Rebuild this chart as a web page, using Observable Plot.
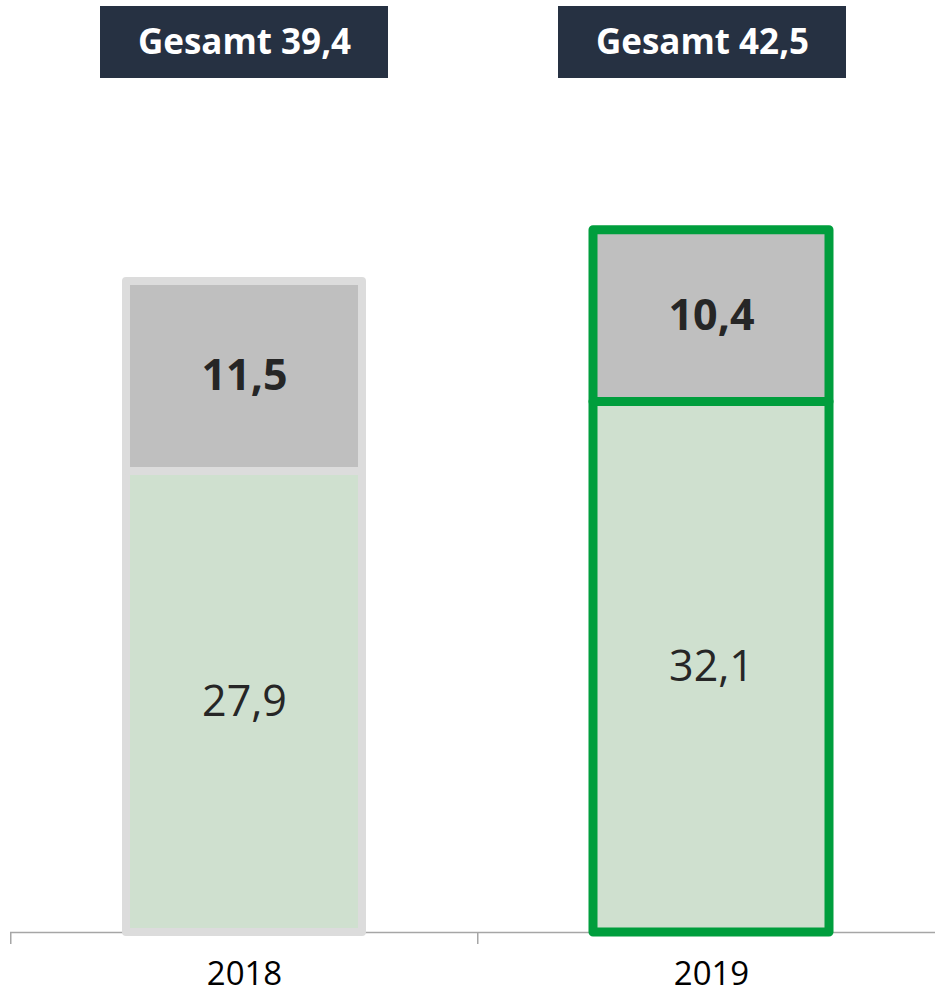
<!DOCTYPE html>
<html>
<head>
<meta charset="utf-8">
<script src="https://cdn.jsdelivr.net/npm/d3@7"></script>
<script src="https://cdn.jsdelivr.net/npm/@observablehq/plot@0.6"></script>
<style>
  html, body { margin: 0; padding: 0; background: #ffffff; }
</style>
</head>
<body>
<div id="chart"></div>
<script>
// ---- data ----
const years = ["2018", "2019"];
const baseValues = [27.9, 32.1];   // unteres Segment (grün)
const topValues = [11.5, 10.4];    // oberes Segment (grau)
const segments = ["base", "top"];

// ---- derived tables ----
const data = years.flatMap((year, i) => [
  {year, segment: segments[0], value: baseValues[i]},
  {year, segment: segments[1], value: topValues[i]}
]);
const totals = years.map((year, i) => ({year, total: baseValues[i] + topValues[i]}));
const fmt = v => v.toFixed(1).replace(".", ",");

// ---- layout constants ----
const W = 935, H = 995;
const BASE = 932;              // baseline pixel
const X0 = 10, X1 = 945;       // x band range
const STEP = (X1 - X0) / years.length;
const GREEN_FILL = "#cfe0cf", GRAY_FILL = "#bfbfbf";
const FONT = "Open Sans, sans-serif";

const boxMarks = (rows, dx) => [
  Plot.cell(rows, {
    x: "year", fill: "#263142", dx,
    insetTop: 6, insetBottom: BASE - 78, insetLeft: -26, insetRight: -26
  }),
  Plot.text(rows, {
    x: "year", frameAnchor: "top", dy: 42, dx, lineAnchor: "middle",
    text: d => "Gesamt " + fmt(d.total),
    fill: "#ffffff", fontWeight: "bold", fontSize: 35
  })
];

const chart = Plot.plot({
  width: W,
  height: H,
  marginTop: 0,
  marginLeft: X0,
  marginRight: 0,
  marginBottom: H - BASE,
  style: {fontFamily: FONT, background: "#ffffff", color: "#000"},
  x: {domain: years, range: [X0, X1], paddingInner: 0.495, paddingOuter: 0.2475, label: null},
  y: {domain: [0, 56.4], axis: null},
  color: {domain: segments, range: [GREEN_FILL, GRAY_FILL]},
  marks: [
    // axis baseline
    Plot.ruleY([0], {stroke: "#a6a6a6", strokeWidth: 1.5}),
    // ticks at category boundaries
    Plot.axisX({tickSize: 12, tickFormat: () => "", dx: -STEP / 2, stroke: "#a6a6a6", strokeWidth: 1.5}),
    // labels
    Plot.axisX({tickSize: 0, tickPadding: 29, fontSize: 33, fill: "#000"}),
    // bars 2018
    Plot.barY(data.filter(d => d.year === years[0]), {
      x: "year", y: "value", fill: "segment",
      stroke: "#dcdcdc", strokeWidth: 8, strokeLinejoin: "round"
    }),
    // bars 2019 (highlighted)
    Plot.barY(data.filter(d => d.year === years[1]), {
      x: "year", y: "value", fill: "segment",
      stroke: "#009e3d", strokeWidth: 9, strokeLinejoin: "round"
    }),
    // segment labels
    Plot.text(data, Plot.stackY({
      x: "year", y: "value",
      text: d => d.segment === segments[1] ? fmt(d.value) : "",
      fontSize: 43, fontWeight: "bold", fill: "#262626", lineAnchor: "middle"
    })),
    Plot.text(data, Plot.stackY({
      x: "year", y: "value",
      text: d => d.segment === segments[0] ? fmt(d.value) : "",
      fontSize: 43, fontWeight: "normal", fill: "#262626", lineAnchor: "middle"
    })),
    // total boxes
    ...boxMarks(totals.filter(d => d.year === years[0]), 0),
    ...boxMarks(totals.filter(d => d.year === years[1]), -9)
  ]
});
document.getElementById("chart").appendChild(chart);
</script>
</body>
</html>
